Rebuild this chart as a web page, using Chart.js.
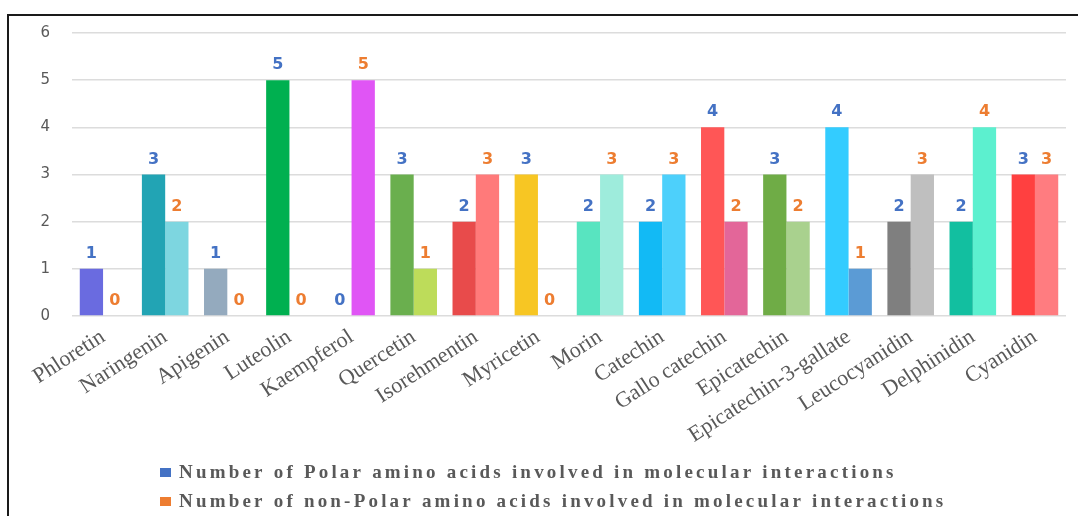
<!DOCTYPE html>
<html>
<head>
<meta charset="utf-8">
<script src="https://cdn.jsdelivr.net/npm/chart.js@4.4.1/dist/chart.umd.min.js"></script>
<style>
  html, body { margin: 0; padding: 0; background: #ffffff; overflow: hidden; }
  #wrap { position: relative; width: 1078px; height: 516px; }
  #c { position: absolute; left: 0; top: 0; }
  #frame { position: absolute; left: 7px; top: 14px; width: 1200px; height: 600px;
           border-left: 2px solid #1a1a1a; border-top: 2px solid #1a1a1a; pointer-events: none; }
</style>
</head>
<body>
<div id="wrap">
  <canvas id="c" width="1078" height="516"></canvas>
  <div id="frame"></div>
</div>
<script>
// Flavonoids docked against the target protein
const compounds = [
  'Phloretin', 'Naringenin', 'Apigenin', 'Luteolin', 'Kaempferol', 'Quercetin',
  'Isorehmentin', 'Myricetin', 'Morin', 'Catechin', 'Gallo catechin', 'Epicatechin',
  'Epicatechin-3-gallate', 'Leucocyanidin', 'Delphinidin', 'Cyanidin'
];

// Interacting residues per compound
const polarCounts    = [1, 3, 1, 5, 0, 3, 2, 3, 2, 2, 4, 3, 4, 2, 2, 3];
const nonPolarCounts = [0, 2, 0, 0, 5, 1, 3, 0, 3, 3, 2, 2, 1, 3, 4, 3];

const seriesNames = [
  'Number of Polar amino acids involved in molecular interactions',
  'Number of non-Polar amino acids involved in molecular interactions'
];

const yTicks = [0, 1, 2, 3, 4, 5, 6];

// Each compound gets its own pair of bar colours
const polarColors = [
  '#6A6BE0', '#22A4B4', '#94AABE', '#00B050', '#D05CF0', '#6AAF4E',
  '#E84B4B', '#F7C623', '#58E4C0', '#12BAF5', '#FF5656', '#6FAC46',
  '#33CCFF', '#7F7F7F', '#12BFA0', '#FF4040'
];
const nonPolarColors = [
  '#B0B0F0', '#7DD6E0', '#C0CCD8', '#70D090', '#E055F5', '#BDDC5A',
  '#FF7A7A', '#F9DC70', '#9EECDC', '#4DD0FB', '#E36699', '#A9D18E',
  '#5B9BD5', '#BFBFBF', '#5CF0CF', '#FF7C80'
];

// Series key colours (legend swatches and value labels)
const seriesColors = ['#4472C4', '#ED7D31'];

const valueLabels = {
  id: 'valueLabels',
  afterDatasetsDraw(chart) {
    const ctx = chart.ctx;
    ctx.save();
    ctx.font = 'bold 16px "DejaVu Sans", Verdana, sans-serif';
    ctx.textAlign = 'center';
    ctx.textBaseline = 'alphabetic';
    chart.data.datasets.forEach((ds, i) => {
      const meta = chart.getDatasetMeta(i);
      ctx.fillStyle = seriesColors[i];
      meta.data.forEach((bar, j) => {
        ctx.fillText(String(ds.data[j]), bar.x, bar.y - 11);
      });
    });
    ctx.restore();
  }
};

const stackedLegend = {
  id: 'stackedLegend',
  afterDraw(chart) {
    const ctx = chart.ctx;
    const baselines = [478, 507];
    ctx.save();
    if ('letterSpacing' in ctx) ctx.letterSpacing = '3.2px';
    ctx.font = 'bold 19px "Liberation Serif", serif';
    ctx.textAlign = 'left';
    ctx.textBaseline = 'alphabetic';
    seriesNames.forEach((name, i) => {
      const yb = baselines[i];
      ctx.fillStyle = seriesColors[i];
      ctx.fillRect(160, yb - 10, 11, 9);
      ctx.fillStyle = '#595959';
      ctx.fillText(name, 179, yb);
    });
    ctx.restore();
  }
};

new Chart(document.getElementById('c'), {
  type: 'bar',
  data: {
    labels: compounds,
    datasets: [
      { label: seriesNames[0], data: polarCounts, backgroundColor: polarColors,
        categoryPercentage: 0.75, barPercentage: 1.0 },
      { label: seriesNames[1], data: nonPolarCounts, backgroundColor: nonPolarColors,
        categoryPercentage: 0.75, barPercentage: 1.0 }
    ]
  },
  options: {
    responsive: false,
    animation: false,
    events: [],
    layout: { padding: { left: 0, right: 12, top: 33, bottom: 0 } },
    plugins: { legend: { display: false }, tooltip: { enabled: false } },
    scales: {
      x: {
        grid: { display: false },
        border: { display: false },
        ticks: {
          autoSkip: false,
          minRotation: 33,
          maxRotation: 33,
          padding: 0,
          color: '#595959',
          font: { family: '"Liberation Serif", serif', size: 22 }
        },
        afterFit(scale) { scale.height = 200; }
      },
      y: {
        min: 0,
        max: 6,
        afterBuildTicks(scale) { scale.ticks = yTicks.map(v => ({ value: v })); },
        grid: { color: '#dcdcdc', lineWidth: 1.5, drawTicks: false },
        border: { display: false },
        ticks: {
          padding: 22,
          color: '#595959',
          font: { family: '"DejaVu Sans", sans-serif', size: 15 }
        },
        afterFit(scale) { scale.width = 72; }
      }
    }
  },
  plugins: [valueLabels, stackedLegend]
});
</script>
</body>
</html>
